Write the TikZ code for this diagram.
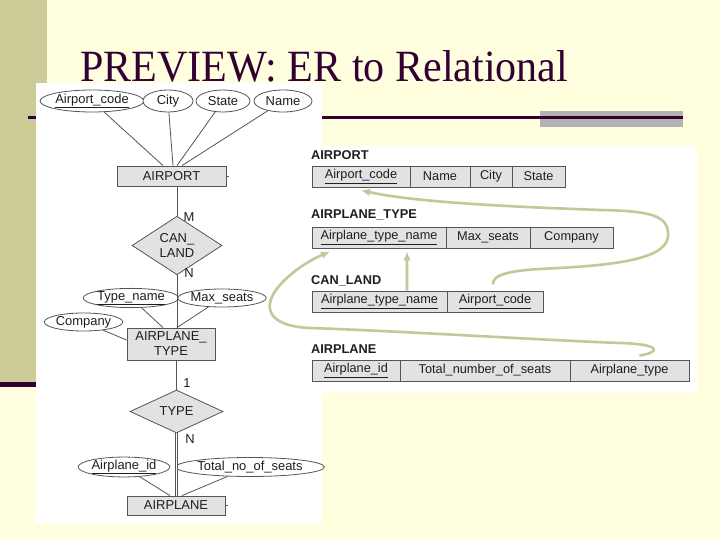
\documentclass[tikz,border=0pt]{standalone}
\usepackage{fontspec}
\setmainfont{Liberation Sans}
\newfontfamily\titlefont{Liberation Serif}
\usepackage{graphicx}
\usetikzlibrary{shapes.geometric,arrows.meta,calc}
\definecolor{bgyellow}{HTML}{FFFFE0}
\definecolor{barolive}{HTML}{CCCC99}
\definecolor{darkline}{HTML}{330033}
\definecolor{graybar}{HTML}{B2B2B2}
\definecolor{arrowol}{HTML}{C6C69A}
\definecolor{cellfill}{HTML}{E2E2E2}
\definecolor{cellline}{HTML}{555555}
\definecolor{txt}{HTML}{1E1E1E}
\begin{document}
\begin{tikzpicture}[x=1bp,y=-1bp,
  erfont/.style={font=\fontsize{13}{15}\selectfont, text=txt},
  attr/.style={ellipse, draw=cellline, fill=white, line width=0.8bp, inner sep=0pt, erfont},
  ent/.style={rectangle, draw=cellline, fill=cellfill, line width=0.8bp, inner sep=0pt, erfont, align=center},
  rel/.style={diamond, draw=cellline, fill=cellfill, line width=0.8bp, inner sep=0pt, erfont, align=center},
  erline/.style={draw=cellline, line width=0.8bp},
  card/.style={erfont, inner sep=0pt},
  cell/.style={rectangle, draw=cellline, fill=cellfill, line width=0.9bp, inner sep=0pt, minimum height=21bp, font=\fontsize{12.8}{15}\selectfont, text=txt},
  tlabel/.style={font=\bfseries\fontsize{12.8}{15}\selectfont, text=txt, inner sep=0pt, anchor=west},
  fk/.style={draw=arrowol, line width=2.6bp, -{Latex[length=9bp,width=8bp]}}
]
\useasboundingbox (0,0) rectangle (720,540);
% slide background
\fill[bgyellow] (0,0) rectangle (720,540);
\fill[barolive] (0,0) rectangle (47,382);
\fill[darkline] (0,382) rectangle (37,387);
\fill[graybar] (540,111) rectangle (683,127);
\fill[darkline] (28,116) rectangle (683,119.5);
\node[anchor=base west, inner sep=0pt, text=darkline] (title) at (80,82)
  {\resizebox{488bp}{31bp}{\titlefont PREVIEW: ER to Relational}};
% picture backgrounds
\fill[white] (36,83) rectangle (322,523);
\fill[white] (300,146) rectangle (697,393);

% ---------------- ER diagram ----------------
\node[attr, minimum width=96bp, minimum height=22bp] (eac) at (92,101) {\underline{Airport\_code}};
\node[attr, minimum width=50bp, minimum height=22bp] (ecity) at (168,101) {City};
\node[attr, minimum width=54bp, minimum height=22bp] (estate) at (223,101) {State};
\node[attr, minimum width=58bp, minimum height=22bp] (ename) at (283,101) {Name};
\node[ent, minimum width=109bp, minimum height=20bp] (airport) at (171.5,176) {AIRPORT};
\node[rel, minimum width=90bp, minimum height=45bp] (canland) at (177,245.5) {CAN\_\\LAND};
\node[card] (lm) at (189,217) {M};
\node[card] (ln) at (189,273) {N};
\node[attr, minimum width=80bp, minimum height=18bp] (etn) at (131,298) {\underline{Type\_name}};
\node[attr, minimum width=82bp, minimum height=18bp] (ems) at (222,298) {Max\_seats};
\node[attr, minimum width=78bp, minimum height=18bp] (eco) at (83.5,322) {Company};
\node[ent, minimum width=88bp, minimum height=32bp] (atype) at (171,344) {AIRPLANE\_\\TYPE};
\node[card] (l1) at (187,383) {1};
\node[rel, minimum width=93bp, minimum height=43bp] (type) at (176.5,411.5) {TYPE};
\node[card] (ln2) at (190,439) {N};
\node[attr, minimum width=84bp, minimum height=19bp] (eaid) at (124,467) {\underline{Airplane\_id}};
\node[attr, minimum width=138bp, minimum height=19bp] (etot) at (250,467) {Total\_no\_of\_seats};
\node[ent, minimum width=98bp, minimum height=19bp] (airplane) at (176,505.5) {AIRPLANE};

\draw[erline] (eac) -- ([xshift=-8.5bp]airport.north);
\draw[erline] (ecity) -- ([xshift=1.5bp]airport.north);
\draw[erline] (estate) -- ([xshift=5.5bp]airport.north);
\draw[erline] (ename) -- ([xshift=10.5bp]airport.north);
\draw[erline] (canland.north |- airport.south) -- (canland.north);
\draw[erline] (canland.south) -- (canland.south |- atype.north);
\draw[erline] (etn) -- ([xshift=-8bp]atype.north);
\draw[erline] (ems) -- ([xshift=6bp]atype.north);
\draw[erline] (eco) -- ([yshift=4bp]atype.west);
\draw[erline] (type.north |- atype.south) -- (type.north);
\draw[erline, double, double distance=1.6bp] (type.south) -- (type.south |- airplane.north);
\draw[erline] (eaid) -- ([xshift=-6bp]airplane.north);
\draw[erline] (etot) -- ([xshift=6bp]airplane.north);
\draw[erline] (airport.east) -- ++(3,0);
\draw[erline] (airplane.east) -- ++(3,0);

% ---------------- Relational schema ----------------
\node[tlabel] (lairport) at (311,155) {AIRPORT};
\node[cell, minimum width=98bp] (ap1) at (361,176.5) {\underline{Airport\_code}};
\node[cell, minimum width=60bp] (ap2) at (440,176.5) {Name};
\node[cell, minimum width=42bp] (ap3) at (491,176.5) {City};
\node[cell, minimum width=53bp] (ap4) at (538.5,176.5) {State};

\node[tlabel] (latype) at (311,215) {AIRPLANE\_TYPE};
\node[cell, minimum width=134bp] (at1) at (379,237.5) {\underline{Airplane\_type\_name}};
\node[cell, minimum width=84bp] (at2) at (488,237.5) {Max\_seats};
\node[cell, minimum width=83bp] (at3) at (571.5,237.5) {Company};

\node[tlabel] (lcanland) at (311,281) {CAN\_LAND};
\node[cell, minimum width=135bp] (cl1) at (379.5,301.5) {\underline{Airplane\_type\_name}};
\node[cell, minimum width=96bp] (cl2) at (495,301.5) {\underline{Airport\_code}};

\node[tlabel] (lairplane) at (311,349) {AIRPLANE};
\node[cell, minimum width=88bp] (apl1) at (356,370.5) {\underline{Airplane\_id}};
\node[cell, minimum width=170bp] (apl2) at (485,370.5) {Total\_number\_of\_seats};
\node[cell, minimum width=119bp] (apl3) at (629.5,370.5) {Airplane\_type};

% foreign keys
\coordinate (c1s) at ($(cl2.north)+(-2,-6)$);
\coordinate (c1e) at ($(ap1.south)+(0,3)$);
\draw[fk] (c1s) .. controls (492,276) and (505,271) .. (540,269)
  .. controls (600,266) and (665,262) .. (668,237)
  .. controls (670,215) and (650,211) .. (600,210)
  .. controls (520,207) and (420,203) .. (c1e);
\draw[fk] ($(cl1.north)+(27.5,0)$) -- ($(at1.south)+(28,3)$);
\coordinate (c3s) at ($(apl3.north)+(10,-4)$);
\coordinate (c3e) at ($(at1.south)+(-49,3)$);
\draw[fk] (c3s) .. controls (662,352) and (660,344) .. (620,343)
  .. controls (540,340) and (400,331) .. (310,328)
  .. controls (265,326) and (262,305) .. (280,285)
  .. controls (295,268) and (315,258) .. (c3e);
\end{tikzpicture}
\end{document}
